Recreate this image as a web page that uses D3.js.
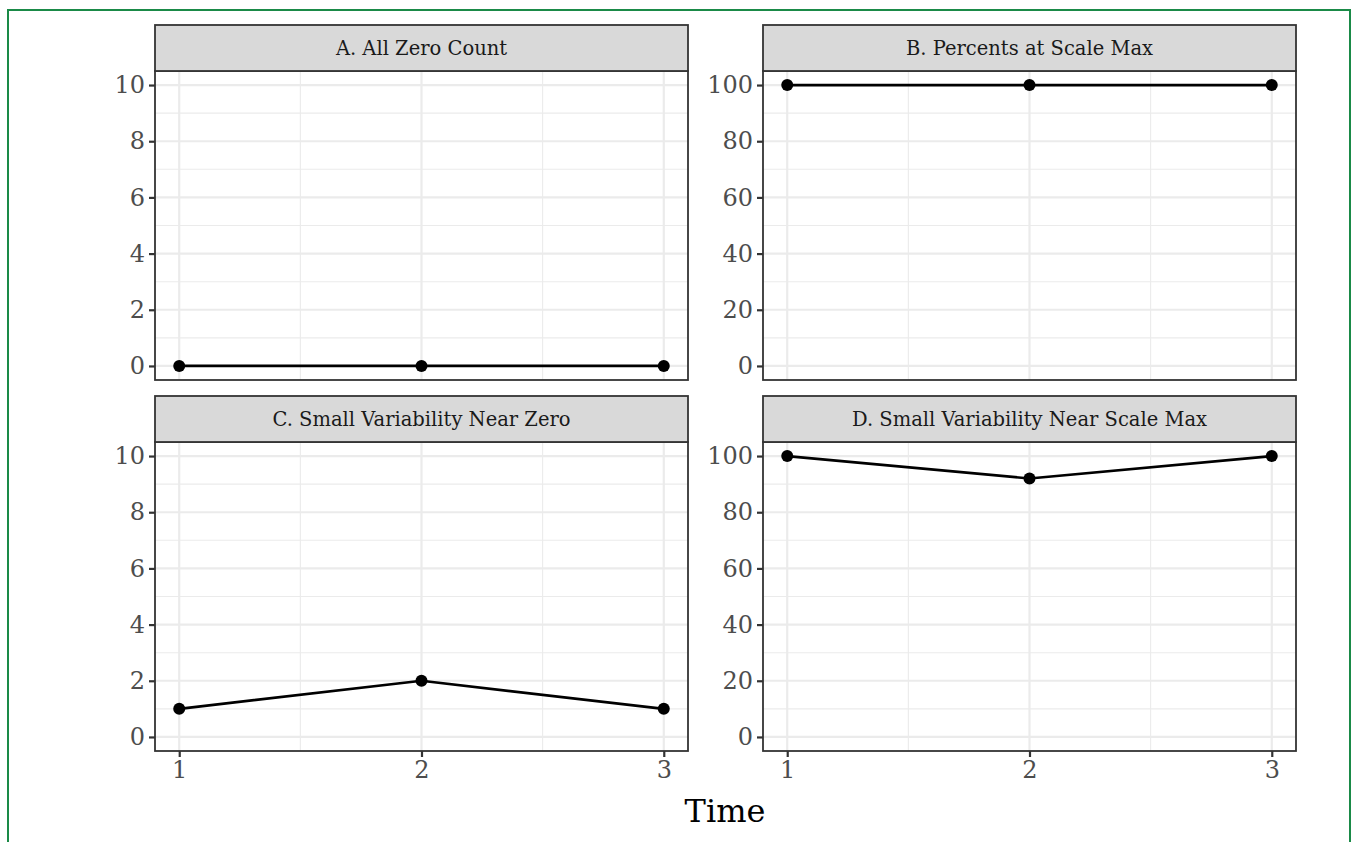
<!DOCTYPE html>
<html>
<head>
<meta charset="utf-8">
<script src="https://cdn.jsdelivr.net/npm/d3@7"></script>
<style>
  html, body { margin: 0; padding: 0; background: #fff; overflow: hidden; }
  svg { display: block; font-family: 'DejaVu Serif', serif; }
</style>
</head>
<body>
<div id="chart"></div>
<script>
const times = [1, 2, 3];
const facetTitles = [
  'A. All Zero Count',
  'B. Percents at Scale Max',
  'C. Small Variability Near Zero',
  'D. Small Variability Near Scale Max'
];
const seriesA = [0, 0, 0];
const seriesB = [100, 100, 100];
const seriesC = [1, 2, 1];
const seriesD = [100, 92, 100];
const countTicks = [0, 2, 4, 6, 8, 10];
const countMinor = [1, 3, 5, 7, 9];
const percentTicks = [0, 20, 40, 60, 80, 100];
const percentMinor = [10, 30, 50, 70, 90];
const xTicks = [1, 2, 3];
const xMinor = [1.5, 2.5];
const xLabel = 'Time';

const width = 1355, height = 842;

const facets = [
  { title: facetTitles[0], values: seriesA, ticks: countTicks, minor: countMinor, domain: [-0.5, 10.5], col: 0, row: 0 },
  { title: facetTitles[1], values: seriesB, ticks: percentTicks, minor: percentMinor, domain: [-5, 105], col: 1, row: 0 },
  { title: facetTitles[2], values: seriesC, ticks: countTicks, minor: countMinor, domain: [-0.5, 10.5], col: 0, row: 1 },
  { title: facetTitles[3], values: seriesD, ticks: percentTicks, minor: percentMinor, domain: [-5, 105], col: 1, row: 1 }
];

// panel geometry (ggplot-like facet_wrap with free y)
const colX = [155, 763];
const panelW = 533;
const rowTop = [25, 396];
const stripH = 46;
const panelH = 309;

const svg = d3.select('#chart').append('svg')
  .attr('width', width)
  .attr('height', height);

svg.append('rect')
  .attr('width', width).attr('height', height)
  .attr('fill', '#fff');

// green frame
svg.append('path')
  .attr('d', `M8,${height + 5}V10H1350V${height + 5}`)
  .attr('fill', 'none')
  .attr('stroke', '#1a8a47')
  .attr('stroke-width', 2);

facets.forEach(f => {
  const x0 = colX[f.col];
  const sTop = rowTop[f.row];
  const pTop = sTop + stripH;
  const g = svg.append('g');

  const x = d3.scaleLinear().domain([0.9, 3.1]).range([x0, x0 + panelW]);
  const y = d3.scaleLinear().domain(f.domain).range([pTop + panelH, pTop]);

  // minor grid
  g.append('g').selectAll('line').data(f.minor).join('line')
    .attr('x1', x0).attr('x2', x0 + panelW)
    .attr('y1', d => y(d)).attr('y2', d => y(d))
    .attr('stroke', '#ebebeb').attr('stroke-width', 1.1);
  g.append('g').selectAll('line').data(xMinor).join('line')
    .attr('y1', pTop).attr('y2', pTop + panelH)
    .attr('x1', d => x(d)).attr('x2', d => x(d))
    .attr('stroke', '#ebebeb').attr('stroke-width', 1.1);
  // major grid
  g.append('g').selectAll('line').data(f.ticks).join('line')
    .attr('x1', x0).attr('x2', x0 + panelW)
    .attr('y1', d => y(d)).attr('y2', d => y(d))
    .attr('stroke', '#ebebeb').attr('stroke-width', 2.2);
  g.append('g').selectAll('line').data(xTicks).join('line')
    .attr('y1', pTop).attr('y2', pTop + panelH)
    .attr('x1', d => x(d)).attr('x2', d => x(d))
    .attr('stroke', '#ebebeb').attr('stroke-width', 2.2);

  // data
  const line = d3.line().x((d, i) => x(times[i])).y(d => y(d));
  g.append('path')
    .datum(f.values)
    .attr('d', line)
    .attr('fill', 'none')
    .attr('stroke', '#000')
    .attr('stroke-width', 2.7);
  g.append('g').selectAll('circle').data(f.values).join('circle')
    .attr('cx', (d, i) => x(times[i]))
    .attr('cy', d => y(d))
    .attr('r', 6)
    .attr('fill', '#000');

  // panel border
  g.append('rect')
    .attr('x', x0).attr('y', pTop)
    .attr('width', panelW).attr('height', panelH)
    .attr('fill', 'none')
    .attr('stroke', '#333').attr('stroke-width', 1.8);

  // strip
  g.append('rect')
    .attr('x', x0).attr('y', sTop)
    .attr('width', panelW).attr('height', stripH)
    .attr('fill', '#d9d9d9')
    .attr('stroke', '#333').attr('stroke-width', 1.8);
  g.append('text')
    .attr('x', x0 + panelW / 2)
    .attr('y', sTop + stripH / 2)
    .attr('dy', '0.36em')
    .attr('text-anchor', 'middle')
    .attr('font-size', 19.5)
    .attr('fill', '#1a1a1a')
    .text(f.title);

  // y axis
  const yAxis = g.append('g')
    .attr('transform', `translate(${x0},0)`)
    .call(d3.axisLeft(y).tickValues(f.ticks).tickSize(6).tickPadding(4));
  yAxis.select('.domain').remove();
  yAxis.selectAll('.tick line').attr('stroke', '#333').attr('stroke-width', 2.2);
  yAxis.selectAll('.tick text')
    .attr('fill', '#4d4d4d')
    .attr('font-size', 24)
    .attr('font-family', 'DejaVu Serif, serif');

  // x axis only on bottom row
  if (f.row === 1) {
    const xAxis = g.append('g')
      .attr('transform', `translate(0,${pTop + panelH})`)
      .call(d3.axisBottom(x).tickValues(xTicks).tickFormat(d3.format('d')).tickSize(6).tickPadding(4));
    xAxis.select('.domain').remove();
    xAxis.selectAll('.tick line').attr('stroke', '#333').attr('stroke-width', 2.2);
    xAxis.selectAll('.tick text')
      .attr('fill', '#4d4d4d')
      .attr('font-size', 24)
      .attr('font-family', 'DejaVu Serif, serif');
  }
});

svg.append('text')
  .attr('x', 725)
  .attr('y', 822)
  .attr('text-anchor', 'middle')
  .attr('font-size', 32)
  .attr('fill', '#000')
  .text(xLabel);
</script>
</body>
</html>
